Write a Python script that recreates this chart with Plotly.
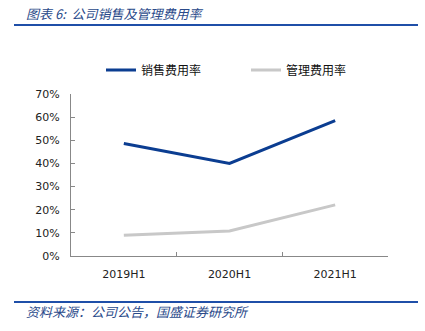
import plotly.graph_objects as go

periods = ["2019H1", "2020H1", "2021H1"]
sales_rate = [0.486, 0.400, 0.585]
admin_rate = [0.090, 0.108, 0.221]
series_names = ["销售费用率", "管理费用率"]
y_ticks = [0, 0.1, 0.2, 0.3, 0.4, 0.5, 0.6, 0.7]

BLUE = "#0B3D91"
GRAY = "#C8C8C8"
HEAD_BLUE = "#1F4FA8"
TEXT_BLUE = "#2A4A8A"

fig = go.Figure()
fig.add_trace(go.Scatter(x=periods, y=sales_rate, mode="lines", name=series_names[0],
                         line=dict(color=BLUE, width=3)))
fig.add_trace(go.Scatter(x=periods, y=admin_rate, mode="lines", name=series_names[1],
                         line=dict(color=GRAY, width=3)))

W, H = 425, 331
L, R, T, B = 71, 37, 94, 75
pw, ph = W - L - R, H - T - B


def px_x(x):
    return (x - L) / pw


def px_y(y):
    return (H - B - y) / ph


fig.update_layout(
    width=W, height=H,
    margin=dict(l=L, r=R, t=T, b=B),
    paper_bgcolor="white", plot_bgcolor="white",
    font=dict(family="DejaVu Sans", size=11, color="#222222"),
    showlegend=True,
    legend=dict(orientation="h", x=px_x(101), xanchor="left", y=px_y(70), yanchor="middle",
                font=dict(family="Noto Sans CJK SC", size=12, color="#111111"),
                itemwidth=30, entrywidth=100, bgcolor="rgba(0,0,0,0)"),
    xaxis=dict(type="category", range=[-0.5, 2.5], showline=True, linecolor="#888888",
               linewidth=1, ticks="inside", ticklen=4, tickcolor="#888888",
               tickson="boundaries", showgrid=False, zeroline=False,
               ticklabelstandoff=8,
               tickfont=dict(family="DejaVu Sans", size=11, color="#222222")),
    yaxis=dict(range=[0, 0.7], tickvals=y_ticks, tickformat=".0%", showline=True,
               linecolor="#888888", linewidth=1, ticks="inside", ticklen=4,
               tickcolor="#888888", showgrid=False, zeroline=False,
               ticklabelstandoff=8,
               tickfont=dict(family="DejaVu Sans", size=11, color="#222222")),
)

# header and footer rules
fig.add_shape(type="line", xref="paper", yref="paper", x0=px_x(14), x1=px_x(418),
              y0=px_y(25), y1=px_y(25), line=dict(color=HEAD_BLUE, width=2))
fig.add_shape(type="line", xref="paper", yref="paper", x0=px_x(14), x1=px_x(418),
              y0=px_y(302), y1=px_y(302), line=dict(color=HEAD_BLUE, width=2))

fig.add_annotation(text="图表 6:  公司销售及管理费用率", xref="paper", yref="paper",
                   x=px_x(24), y=px_y(13), xanchor="left", yanchor="middle", showarrow=False,
                   font=dict(family="Noto Sans CJK SC", size=13, color=TEXT_BLUE, style="italic"))
fig.add_annotation(text="资料来源：公司公告，国盛证券研究所", xref="paper", yref="paper",
                   x=px_x(24), y=px_y(311), xanchor="left", yanchor="middle", showarrow=False,
                   font=dict(family="Noto Sans CJK SC", size=13, color=TEXT_BLUE, style="italic"))

fig.write_html("out.html")
